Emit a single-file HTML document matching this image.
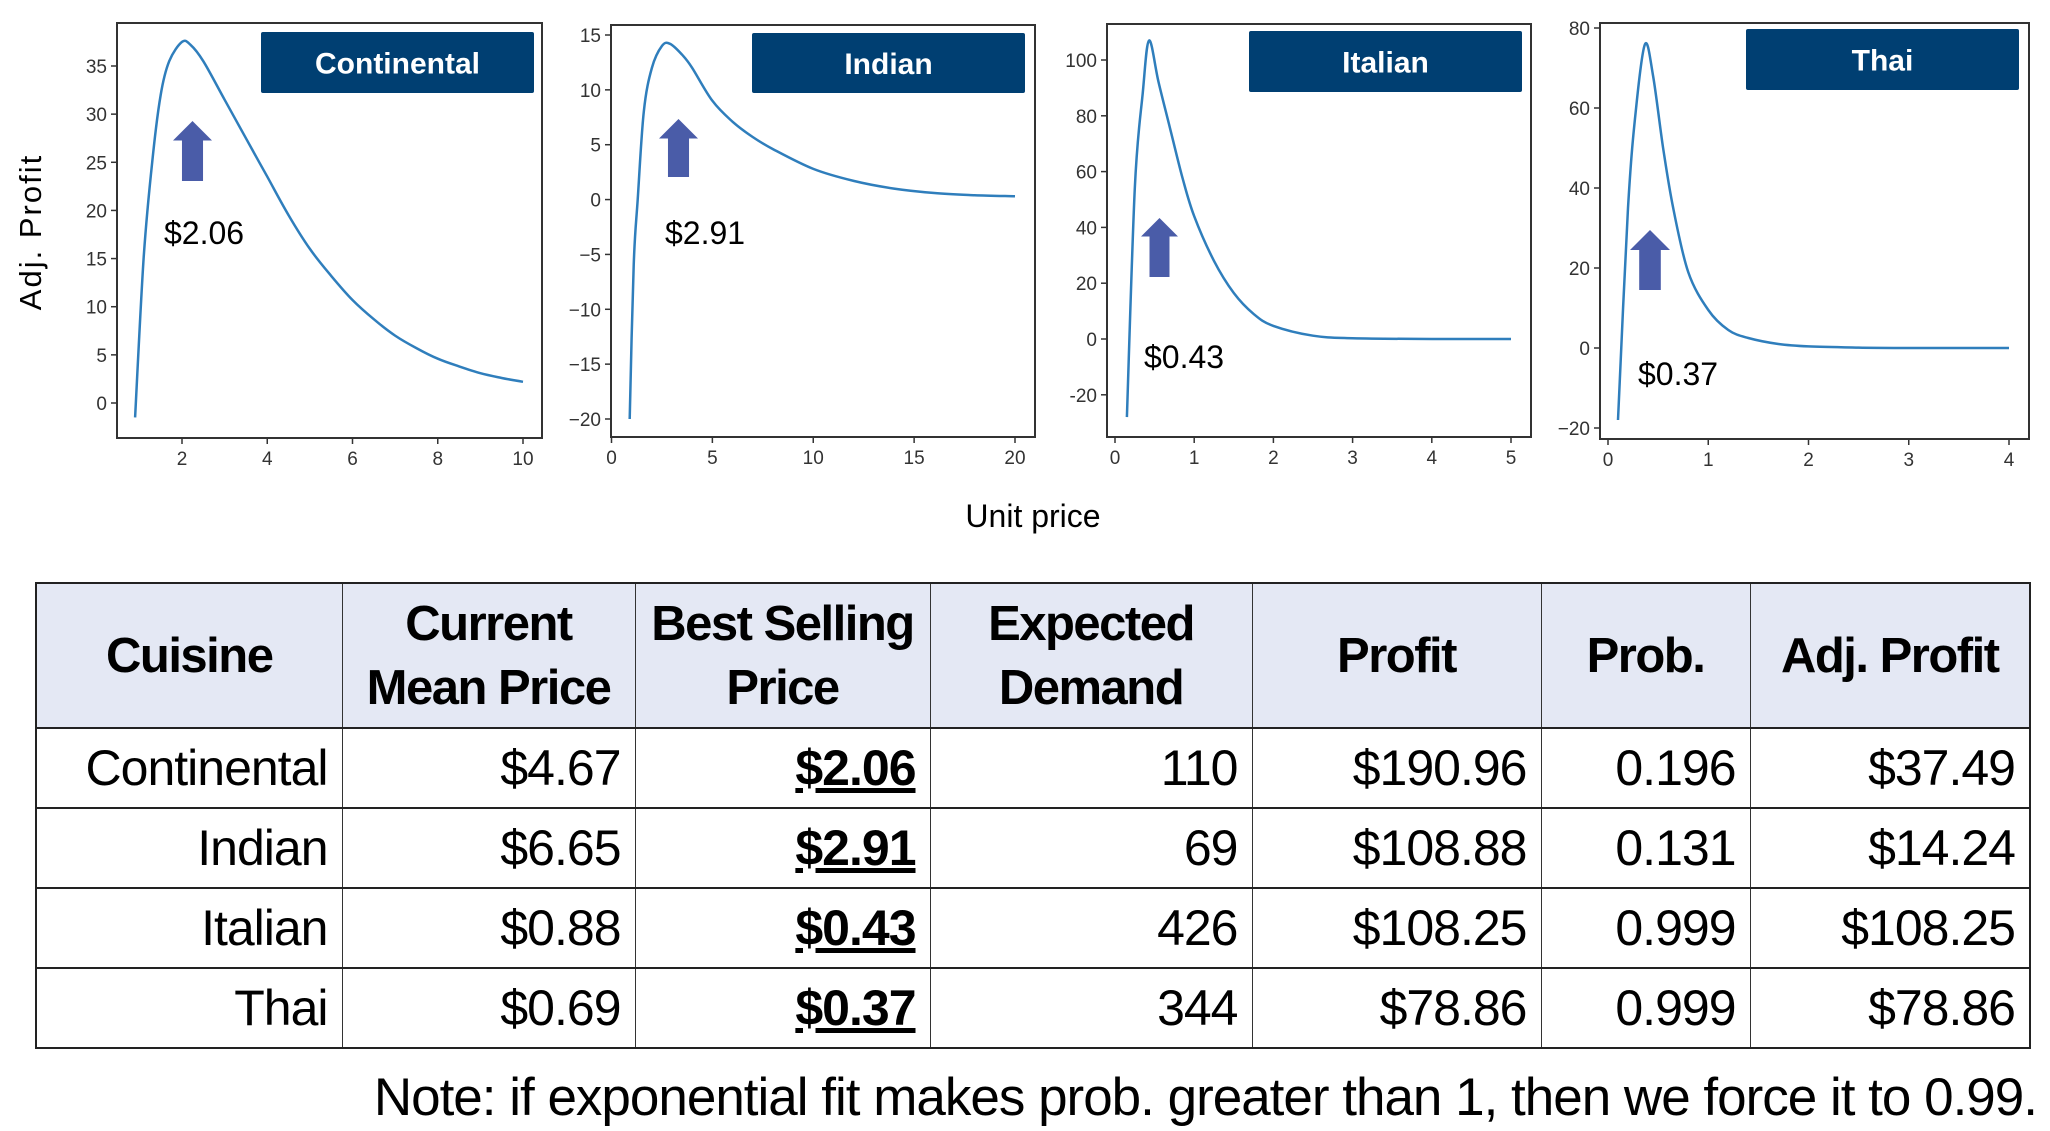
<!DOCTYPE html>
<html><head><meta charset="utf-8">
<style>
body{margin:0;width:2050px;height:1131px;background:#fff;overflow:hidden;position:relative;font-family:"Liberation Sans",sans-serif}
svg{position:absolute;left:0;top:0}
table{position:absolute;left:35px;top:582px;border-collapse:collapse;table-layout:fixed;width:1994px}
td,th{border:1.5px solid #333;padding:0 14px 0 6px;font-size:50px;color:#000;white-space:nowrap;overflow:hidden}
th{background:#e4e8f4;font-weight:bold;text-align:center;line-height:64px;height:143px;padding:0 2px;letter-spacing:-1.5px;font-size:49px}
td{text-align:right;height:78px;letter-spacing:-1px}
tr{border-top:2.5px solid #222}
table{border:2.5px solid #222}
.b{font-weight:bold;text-decoration:underline}
#note{position:absolute;right:13px;top:1067px;font-size:53px;color:#000;letter-spacing:-1px;white-space:nowrap}
</style></head><body>
<svg id="chart" width="2050" height="570"></svg>
<table>
<colgroup><col style="width:306px"><col style="width:293px"><col style="width:295px"><col style="width:322px"><col style="width:289px"><col style="width:209px"><col style="width:280px"></colgroup>
<tr><th>Cuisine</th><th>Current<br>Mean Price</th><th>Best Selling<br>Price</th><th>Expected<br>Demand</th><th>Profit</th><th>Prob.</th><th>Adj. Profit</th></tr>
<tr><td>Continental</td><td>$4.67</td><td class="b">$2.06</td><td>110</td><td>$190.96</td><td>0.196</td><td>$37.49</td></tr>
<tr><td>Indian</td><td>$6.65</td><td class="b">$2.91</td><td>69</td><td>$108.88</td><td>0.131</td><td>$14.24</td></tr>
<tr><td>Italian</td><td>$0.88</td><td class="b">$0.43</td><td>426</td><td>$108.25</td><td>0.999</td><td>$108.25</td></tr>
<tr><td>Thai</td><td>$0.69</td><td class="b">$0.37</td><td>344</td><td>$78.86</td><td>0.999</td><td>$78.86</td></tr>
</table>
<div id="note">Note: if exponential fit makes prob. greater than 1, then we force it to 0.99.</div>
<script>
const names=["Continental","Indian","Italian","Thai"];
const bestPrices=["$2.06","$2.91","$0.43","$0.37"];
const bestX=[2.06,2.91,0.43,0.37];
const c1X=[0.9,1.1,1.3,1.5,1.7,2.0,2.2,2.5,3,3.5,4,4.5,5,5.5,6,6.5,7,7.5,8,8.5,9,9.5,10];
const c1Y=[-1.5,15,25,32,35.5,37.5,37.2,35.5,31.5,27.5,23.5,19.5,16,13.2,10.7,8.7,7,5.7,4.6,3.8,3.1,2.6,2.2];
const c2X=[0.9,1.1,1.3,1.6,2,2.5,2.9,3.5,4,5,6,7,8,10,12,14,16,18,20];
const c2Y=[-20,-6,0,8,12,14,14.2,13.2,12,9,7.1,5.7,4.6,2.8,1.7,1.0,0.6,0.4,0.3];
const c3X=[0.15,0.25,0.35,0.43,0.55,0.7,0.85,1,1.25,1.5,1.75,2,2.5,3,4,5];
const c3Y=[-28,54,88,107,92,75,58,44,28,16.5,9,4.7,1.2,0.3,0,0];
const c4X=[0.1,0.2,0.28,0.37,0.45,0.55,0.65,0.8,1,1.2,1.4,1.7,2,2.5,3,4];
const c4Y=[-18,35,60,76,68,50,35,19,9.5,4.5,2.5,1,0.4,0.1,0,0];
const c1XT=[2,4,6,8,10], c1YT=[0,5,10,15,20,25,30,35];
const c2XT=[0,5,10,15,20], c2YT=[-20,-15,-10,-5,0,5,10,15];
const c3XT=[0,1,2,3,4,5], c3YT=[-20,0,20,40,60,80,100];
const c4XT=[0,1,2,3,4], c4YT=[-20,0,20,40,60,80];
const yLabelFmt=[v=>String(v),v=>String(v).replace('-','\u2212'),v=>String(v),v=>String(v).replace('-','\u2212')];

const L=[
 {box:[117,23,542,438],xa:[2,182,10,523],ya:[0,403,35,66],title:[261,32,534,93],arrow:[173,121,212,181],lab:[164,244]},
 {box:[611,25,1035,437],xa:[0,611.5,20,1015],ya:[-20,419,15,35],title:[752,33,1025,93],arrow:[659,119,698,177],lab:[665,244]},
 {box:[1107,24,1531,437],xa:[0,1115,5,1511],ya:[0,339,100,60],title:[1249,31,1522,92],arrow:[1141,218,1178,277],lab:[1144,368]},
 {box:[1600,23,2029,439],xa:[0,1608,4,2009],ya:[0,348,80,28],title:[1746,29,2019,90],arrow:[1630,230,1670,290],lab:[1638,385]}
];
const XS=[c1X,c2X,c3X,c4X],YS=[c1Y,c2Y,c3Y,c4Y],XT=[c1XT,c2XT,c3XT,c4XT],YT=[c1YT,c2YT,c3YT,c4YT];
const svg=document.getElementById('chart');
const NS="http://www.w3.org/2000/svg";
function mk(t,a,p){const e=document.createElementNS(NS,t);for(const k in a)e.setAttribute(k,a[k]);(p||svg).appendChild(e);return e;}
function smooth(P){let d='M'+P[0][0].toFixed(1)+','+P[0][1].toFixed(1);
 for(let k=0;k<P.length-1;k++){const p0=P[Math.max(k-1,0)],p1=P[k],p2=P[k+1],p3=P[Math.min(k+2,P.length-1)];
  const c1=[p1[0]+(p2[0]-p0[0])/6,p1[1]+(p2[1]-p0[1])/6],c2=[p2[0]-(p3[0]-p1[0])/6,p2[1]-(p3[1]-p1[1])/6];
  d+='C'+c1[0].toFixed(1)+','+c1[1].toFixed(1)+' '+c2[0].toFixed(1)+','+c2[1].toFixed(1)+' '+p2[0].toFixed(1)+','+p2[1].toFixed(1);}
 return d;}
for(let i=0;i<4;i++){
 const c=L[i];
 const sx=v=>c.xa[1]+(v-c.xa[0])*(c.xa[3]-c.xa[1])/(c.xa[2]-c.xa[0]);
 const sy=v=>c.ya[1]+(v-c.ya[0])*(c.ya[3]-c.ya[1])/(c.ya[2]-c.ya[0]);
 const g=mk('g',{});
 
 
 const fr=mk('rect',{x:c.box[0],y:c.box[1],width:c.box[2]-c.box[0],height:c.box[3]-c.box[1],fill:'none',stroke:'#333','stroke-width':2},g);
 
 
 XT[i].forEach(v=>{const x=sx(v);
  mk('line',{x1:x,x2:x,y1:c.box[3],y2:c.box[3]+6,stroke:'#333','stroke-width':1.5},g);
  const t=mk('text',{x:x,y:c.box[3]+27,'text-anchor':'middle','font-size':19,fill:'#333'},g);t.textContent=v;
  
  });
 YT[i].forEach(v=>{const y=sy(v);
  mk('line',{x1:c.box[0]-6,x2:c.box[0],y1:y,y2:y,stroke:'#333','stroke-width':1.5},g);
  const t=mk('text',{x:c.box[0]-10,y:y+7,'text-anchor':'end','font-size':19,fill:'#333'},g);t.textContent=yLabelFmt[i](v);
  
  });
 const pts=XS[i].map((x,k)=>[sx(x),sy(YS[i][k])]);
 const p=mk('path',{d:smooth(pts),fill:'none',stroke:'#2f7ebc','stroke-width':2.5,'stroke-linejoin':'round'},g);
 
 
 const tb=mk('rect',{x:c.title[0],y:c.title[1],width:c.title[2]-c.title[0],height:c.title[3]-c.title[1],fill:'#003f72',rx:2},g);
 
 
 const tt=mk('text',{x:(c.title[0]+c.title[2])/2,y:(c.title[1]+c.title[3])/2+11,'text-anchor':'middle','font-size':30,'font-weight':'bold',fill:'#fff'},g);
 tt.textContent=names[i];
 
 
 const a=c.arrow,w=a[2]-a[0],cx=(a[0]+a[2])/2,sw=w*0.27,hh=w*0.5;
 const ar=mk('polygon',{points:`${cx},${a[1]} ${a[2]},${a[1]+hh} ${cx+sw},${a[1]+hh} ${cx+sw},${a[3]} ${cx-sw},${a[3]} ${cx-sw},${a[1]+hh} ${a[0]},${a[1]+hh}`,fill:'#4a5ca8'},g);
 
 
 const lt=mk('text',{x:c.lab[0],y:c.lab[1],'font-size':32,fill:'#000'},g);lt.textContent=bestPrices[i];
 
 
}
const yl=mk('text',{x:0,y:0,transform:'translate(41,232) rotate(-90)','text-anchor':'middle','font-size':31,fill:'#000','letter-spacing':2});
yl.textContent='Adj. Profit';


const xl=mk('text',{x:1033,y:527,'text-anchor':'middle','font-size':32,fill:'#000'});
xl.textContent='Unit price';


</script>
</body></html>
